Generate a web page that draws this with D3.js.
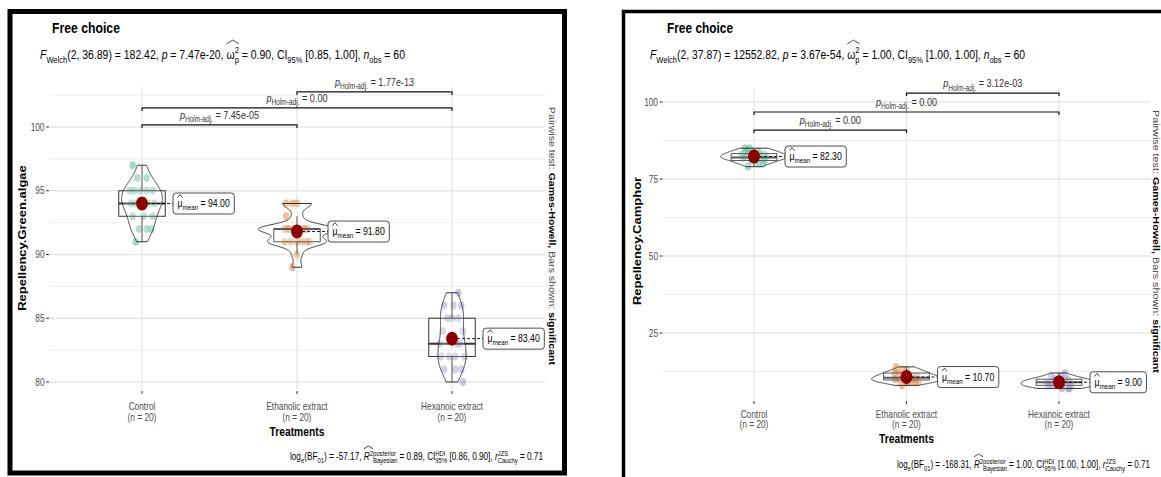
<!DOCTYPE html>
<html lang="en">
<head>
<meta charset="UTF-8">
<title>Free choice</title>
<script src="https://d3js.org/d3.v7.min.js"></script>
<style>
  body { margin: 0; background: #fff; }
  svg { font-family: "Liberation Sans", Arial, sans-serif; display: block; }
  text { white-space: pre; }
</style>
</head>
<body>
<svg id="chart" width="1161" height="477"></svg>
<script>
// ---- data ----
const treatments = ["Control", "Ethanolic extract", "Hexanoic extract"];
const groupColors = ["#1B9E77", "#D95F02", "#7570B3"];

// Repellency.Green.algae (left panel)
const greenControl   = [97, 96, 96, 95, 95, 95, 95, 95, 94, 94, 94, 94, 94, 93, 93, 93, 92, 92, 92, 91];
const greenEthanolic = [94, 94, 94, 93, 92, 92, 92, 92, 92, 92, 92, 92, 91, 91, 91, 91, 91, 91, 90, 89];
const greenHexanoic  = [87, 86, 86, 86, 85, 85, 85, 84, 84, 83, 83, 83, 82, 82, 82, 82, 81, 81, 81, 80];

// Repellency.Camphor (right panel)
const camphorControl   = [85, 85, 84, 84, 84, 83, 83, 83, 83, 82, 82, 82, 82, 82, 81, 81, 81, 80, 80, 79];
const camphorEthanolic = [14, 13, 13, 12, 12, 12, 11, 11, 11, 11, 10, 10, 10, 10, 10, 9, 9, 9, 9, 8];
const camphorHexanoic  = [12, 11, 11, 10, 10, 10, 10, 9, 9, 9, 9, 9, 8, 8, 8, 8, 8, 7, 7, 7];

// horizontal jitter of each point, as a share of the category step
const jitterControl   = [-0.06, -0.03, 0.03, -0.05, -0.01, 0.03, 0.07, -0.08, -0.04, 0.0, 0.04, 0.08, -0.07, -0.06, 0.01, 0.07, -0.02, 0.03, 0.06, -0.04];
const jitterEthanolic = [-0.07, -0.03, 0.0, -0.07, -0.08, -0.05, -0.02, 0.01, 0.04, 0.07, -0.06, 0.05, -0.08, -0.04, 0.0, 0.03, 0.06, 0.08, 0.0, -0.03];
const jitterHexanoic  = [0.04, -0.05, 0.01, 0.06, -0.03, 0.0, 0.04, 0.07, -0.06, 0.03, -0.08, 0.05, -0.02, 0.08, -0.07, 0.02, -0.05, 0.02, 0.06, 0.07];

const greenTicks = [80, 85, 90, 95, 100];
const camphorTicks = [25, 50, 75, 100];

// pairwise brackets: groups compared, bracket height (data units), adjusted p
const greenPairs = [
  { a: 0, b: 1, at: 100.16, p: "7.45e-05" },
  { a: 0, b: 2, at: 101.5, p: "0.00" },
  { a: 1, b: 2, at: 102.75, p: "1.77e-13" }
];
const camphorPairs = [
  { a: 0, b: 1, at: 90.9, p: "0.00" },
  { a: 0, b: 2, at: 96.75, p: "0.00" },
  { a: 1, b: 2, at: 102.9, p: "3.12e-03" }
];

const greenStats = ["36.89", "182.42", "7.47e-20", "0.90", "[0.85, 1.00]", "60"];
const camphorStats = ["37.87", "12552.82", "3.67e-54", "1.00", "[1.00, 1.00]", "60"];
const greenBayes = ["-57.17", "0.89", "[0.86, 0.90]", "0.71"];
const camphorBayes = ["-168.31", "1.00", "[1.00, 1.00]", "0.71"];

// ---- drawing ----
const svg = d3.select("#chart");
const SX = 0.79;           // the reference is squeezed sideways
const GREY = "#4D4D4D";
const meas = svg.append("text").attr("x", -2000).attr("y", -2000);

function textWidth(t, size, weight, style) {
  meas.attr("font-size", size).attr("font-weight", weight || "normal")
      .attr("font-style", style || "normal").text(t);
  return meas.node().getComputedTextLength();
}

// little layout for plotmath-like labels
function rich(parent, parts, size, fill) {
  const g = parent.append("g");
  const small = size * 0.72;
  let x = 0;
  parts.forEach(p => {
    const wt = p.b ? "bold" : "normal", st = p.i ? "italic" : "normal";
    const col = p.fill || fill;
    const x0 = x;
    if (p.t) {
      g.append("text").attr("x", x).attr("font-size", size)
        .attr("font-weight", wt).attr("font-style", st).attr("fill", col).text(p.t);
      x += textWidth(p.t, size, wt, st);
    }
    let extra = 0, supW = 0;
    if (p.sup) {
      g.append("text").attr("x", x).attr("y", -size * 0.42).attr("font-size", small)
        .attr("fill", col).text(p.sup);
      supW = textWidth(p.sup, small);
      extra = supW;
    }
    if (p.sub) {
      g.append("text").attr("x", x).attr("y", size * 0.3).attr("font-size", small)
        .attr("fill", col).text(p.sub);
      extra = Math.max(extra, textWidth(p.sub, small));
    }
    if (p.hat) {
      const x1 = x + supW;
      const base = p.sup ? -size * 1.12 : -size * 0.85;
      g.append("path")
        .attr("d", `M${x0},${base} L${(x0 + x1) / 2},${base - size * 0.28} L${x1},${base}`)
        .attr("fill", "none").attr("stroke", col).attr("stroke-width", 0.8);
    }
    x += extra;
  });
  return { g, w: x };
}

function place(r, x, y, anchor, sx) {
  const s = sx || SX;
  const off = anchor === "middle" ? r.w / 2 : anchor === "end" ? r.w : 0;
  r.g.attr("transform", `translate(${x - off * s},${y}) scale(${s},1)`);
}

function fit(r, x, y, width, anchor) {
  const s = width / r.w;
  const left = anchor === "end" ? x - width : x;
  r.g.attr("transform", `translate(${left},${y}) scale(${s},1)`);
}

function bwNrd0(vals) {
  const s = d3.deviation(vals);
  const sorted = vals.slice().sort(d3.ascending);
  const iqr = d3.quantileSorted(sorted, 0.75) - d3.quantileSorted(sorted, 0.25);
  const lo = Math.min(s, iqr / 1.34) || s || 1;
  return 0.9 * lo * Math.pow(vals.length, -0.2);
}

function density(vals) {
  const bw = bwNrd0(vals);
  const [lo, hi] = d3.extent(vals);
  return d3.range(256).map(i => {
    const v = lo + (hi - lo) * i / 255;
    const d = d3.mean(vals, u => Math.exp(-0.5 * ((v - u) / bw) ** 2)) / (bw * Math.sqrt(2 * Math.PI));
    return { v, d };
  });
}

function drawPanel(L, groups, ticks, pairs, stats, bayes, yTitle) {
  const g = svg.append("g");

  g.append("rect")
    .attr("x", L.frame[0]).attr("y", L.frame[1])
    .attr("width", L.frame[2]).attr("height", L.frame[3])
    .attr("fill", "none").attr("stroke", "#000").attr("stroke-width", L.frameW);

  const x = d3.scalePoint().domain(treatments).range(L.plotX).padding(0.6);
  const step = x.step();
  const y = d3.scaleLinear().domain(L.yDomain).range(L.yRange);
  const [top, bottom] = L.plotY;
  const vTop = y.invert(top), vBottom = y.invert(bottom);
  const dt = ticks[1] - ticks[0];

  // grid
  const minors = d3.range(ticks[0] - dt / 2, vTop, dt).filter(v => v > vBottom);
  g.selectAll(".minor").data(minors).join("line")
    .attr("x1", L.plotX[0]).attr("x2", L.plotX[1])
    .attr("y1", d => y(d)).attr("y2", d => y(d))
    .attr("stroke", "#EEEEEE").attr("stroke-width", 1);
  g.selectAll(".major").data(ticks).join("line")
    .attr("x1", L.plotX[0]).attr("x2", L.plotX[1])
    .attr("y1", d => y(d)).attr("y2", d => y(d))
    .attr("stroke", "#E6E6E6").attr("stroke-width", 1.3);
  g.selectAll(".vgrid").data(treatments).join("line")
    .attr("x1", d => x(d)).attr("x2", d => x(d))
    .attr("y1", top).attr("y2", bottom)
    .attr("stroke", "#E6E6E6").attr("stroke-width", 1.3);

  // y axis
  ticks.forEach(t => {
    g.append("line").attr("x1", L.plotX[0] - 3).attr("x2", L.plotX[0])
      .attr("y1", y(t)).attr("y2", y(t)).attr("stroke", "#333").attr("stroke-width", 1);
    place(rich(g, [{ t: String(t) }], 10.5, GREY), L.plotX[0] - 4.5, y(t) + 3.7, "end");
  });

  // x axis
  treatments.forEach(c => {
    g.append("line").attr("x1", x(c)).attr("x2", x(c))
      .attr("y1", bottom + 1).attr("y2", bottom + 4).attr("stroke", "#333");
    place(rich(g, [{ t: c }], 10.5, GREY), x(c), L.xLab1, "middle");
    place(rich(g, [{ t: "(n = 20)" }], 10.5, GREY), x(c), L.xLab2, "middle");
  });
  place(rich(g, [{ t: "Treatments", b: true }], 13, "#000"), x(treatments[1]), L.xTitle, "middle");

  // y title
  g.append("text")
    .attr("transform", `translate(${L.yTitleX},${L.yTitleMid}) scale(${SX},1) rotate(-90)`)
    .attr("text-anchor", "middle").attr("font-size", 13).attr("font-weight", "bold")
    .text(yTitle);

  // side note (secondary axis title)
  const side = rich(g, [
    { t: "Pairwise test: ", fill: GREY },
    { t: "Games-Howell,", b: true, fill: "#000" },
    { t: " Bars shown: ", fill: GREY },
    { t: "significant", b: true, fill: "#000" }
  ], 10, "#000");
  side.g.attr("transform",
    `translate(${L.sideX},${L.sideMid}) scale(${SX},1) rotate(90) scale(${L.sideLen / side.w}) translate(${-side.w / 2},0)`);

  // title, subtitle, caption
  fit(rich(g, [{ t: "Free choice", b: true }], 14.5, "#000"), L.titleX, L.titleBase, L.titleW);
  fit(rich(g, [
    { t: "F", i: true, sub: "Welch" }, { t: `(2, ${stats[0]}) = ${stats[1]}, ` },
    { t: "p", i: true }, { t: ` = ${stats[2]}, ` },
    { t: "ω", sup: "2", sub: "p", hat: true }, { t: ` = ${stats[3]}, ` },
    { t: "CI", sub: "95%" }, { t: ` ${stats[4]}, ` },
    { t: "n", i: true, sub: "obs" }, { t: ` = ${stats[5]}` }
  ], 13.5, "#000"), L.subX, L.subBase, L.subW);
  fit(rich(g, [
    { t: "log", sub: "e" }, { t: "(BF", sub: "01" }, { t: `) = ${bayes[0]}, ` },
    { t: "R", i: true, sup: "2", hat: true }, { sup: "posterior", sub: "Bayesian" },
    { t: ` = ${bayes[1]}, ` },
    { t: "CI", sup: "HDI", sub: "95%" }, { t: ` ${bayes[2]}, ` },
    { t: "r", i: true, sup: "JZS", sub: "Cauchy" }, { t: ` = ${bayes[3]}` }
  ], 10, "#000"), L.capEnd, L.capBase, L.capW, "end");

  // distributions
  const half = 0.25 * step;
  const dens = groups.map(gr => density(gr.values));
  const dmax = d3.max(dens, ds => d3.max(ds, d => d.d));

  groups.forEach((gr, i) => {
    const cx = x(treatments[i]);
    const vals = gr.values;

    g.selectAll(null).data(vals).join("ellipse")
      .attr("cx", (d, j) => cx + gr.jitter[j] * step)
      .attr("cy", d => y(d))
      .attr("rx", 3.2).attr("ry", 3.9)
      .attr("fill", groupColors[i]).attr("fill-opacity", 0.4);

    const s = vals.slice().sort(d3.ascending);
    const q1 = d3.quantileSorted(s, 0.25), q3 = d3.quantileSorted(s, 0.75);
    const med = d3.quantileSorted(s, 0.5);
    const iqr = q3 - q1;
    const wLo = d3.min(s.filter(v => v >= q1 - 1.5 * iqr));
    const wHi = d3.max(s.filter(v => v <= q3 + 1.5 * iqr));
    const bw = 0.15 * step;
    g.append("line").attr("x1", cx).attr("x2", cx).attr("y1", y(q3)).attr("y2", y(wHi))
      .attr("stroke", "#333").attr("stroke-width", 1);
    g.append("line").attr("x1", cx).attr("x2", cx).attr("y1", y(q1)).attr("y2", y(wLo))
      .attr("stroke", "#333").attr("stroke-width", 1);
    g.append("rect").attr("x", cx - bw).attr("width", 2 * bw)
      .attr("y", y(q3)).attr("height", Math.max(y(q1) - y(q3), 0.5))
      .attr("fill", "#fff").attr("fill-opacity", 0.2)
      .attr("stroke", "#333").attr("stroke-width", 1);
    g.append("line").attr("x1", cx - bw).attr("x2", cx + bw).attr("y1", y(med)).attr("y2", y(med))
      .attr("stroke", "#333").attr("stroke-width", 2);

    const area = d3.area()
      .y(d => y(d.v))
      .x0(d => cx - half * d.d / dmax)
      .x1(d => cx + half * d.d / dmax);
    g.append("path").datum(dens[i]).attr("d", area)
      .attr("fill", "#fff").attr("fill-opacity", 0.2)
      .attr("stroke", "#333").attr("stroke-width", 1);
  });

  // brackets
  pairs.forEach(pr => {
    const xa = x(treatments[pr.a]), xb = x(treatments[pr.b]), yy = y(pr.at);
    g.append("path").attr("d", `M${xa},${yy + 3}V${yy}H${xb}V${yy + 3}`)
      .attr("fill", "none").attr("stroke", "#111").attr("stroke-width", 1.2);
    place(rich(g, [{ t: "p", i: true, sub: "Holm-adj." }, { t: ` = ${pr.p}` }], 11.5, "#333"),
      (xa + xb) / 2, yy - 6, "middle");
  });

  // means
  groups.forEach((gr, i) => {
    const cx = x(treatments[i]);
    const m = d3.mean(gr.values);
    const my = y(m);
    const lab = rich(g, [{ t: "μ", hat: true, sub: "mean" }, { t: ` = ${d3.format(".2f")(m)}` }], 11, "#000");
    const bx = cx + 31, bwid = lab.w * SX + 9;
    g.append("line").attr("x1", cx).attr("x2", bx).attr("y1", my).attr("y2", my)
      .attr("stroke", "#000").attr("stroke-width", 0.9).attr("stroke-dasharray", "3,2");
    g.append("ellipse").attr("cx", cx).attr("cy", my).attr("rx", 5.9).attr("ry", 7)
      .attr("fill", "#8B0000");
    g.append("rect").attr("x", bx).attr("y", my - 10.5).attr("width", bwid).attr("height", 21)
      .attr("rx", 3).attr("fill", "#fff").attr("stroke", "#222").attr("stroke-width", 0.8);
    lab.g.raise();
    place(lab, bx + 4.5, my + 3.5, "start");
  });
}

drawPanel({
  frame: [10, 11.5, 554.5, 461.5], frameW: 5,
  titleX: 52, titleBase: 33, titleW: 68,
  subX: 40, subBase: 59, subW: 365,
  plotX: [49, 545], plotY: [87, 390],
  yDomain: [80, 100], yRange: [382, 127],
  xLab1: 410, xLab2: 421, xTitle: 436,
  capEnd: 543, capBase: 460, capW: 253,
  yTitleX: 26, yTitleMid: 238,
  sideX: 549, sideMid: 236, sideLen: 258
}, [
  { values: greenControl, jitter: jitterControl },
  { values: greenEthanolic, jitter: jitterEthanolic },
  { values: greenHexanoic, jitter: jitterHexanoic }
], greenTicks, greenPairs, greenStats, greenBayes, "Repellency.Green.algae");

drawPanel({
  frame: [623.5, 11.5, 600, 500], frameW: 3.5,
  titleX: 667, titleBase: 33, titleW: 66,
  subX: 650, subBase: 59, subW: 375,
  plotX: [662.5, 1150.5], plotY: [88, 400],
  yDomain: [25, 100], yRange: [333, 102],
  xLab1: 418, xLab2: 428, xTitle: 443,
  capEnd: 1150, capBase: 468, capW: 253,
  yTitleX: 641, yTitleMid: 241,
  sideX: 1152.5, sideMid: 241.5, sideLen: 263
}, [
  { values: camphorControl, jitter: jitterControl },
  { values: camphorEthanolic, jitter: jitterEthanolic },
  { values: camphorHexanoic, jitter: jitterHexanoic }
], camphorTicks, camphorPairs, camphorStats, camphorBayes, "Repellency.Camphor");

meas.remove();
</script>
</body>
</html>
